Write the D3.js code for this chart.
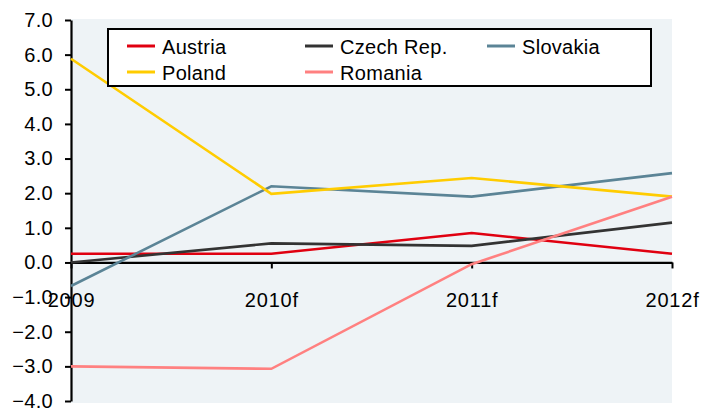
<!DOCTYPE html>
<html><head><meta charset="utf-8">
<script src="https://cdn.jsdelivr.net/npm/d3@7"></script>
<style>body{margin:0;background:#fff;}svg{display:block;font-family:"Liberation Sans",Arial,sans-serif;}</style>
</head><body><svg id="c" width="706" height="412"></svg>
<script>
const categories = ["2009","2010f","2011f","2012f"];
const austria  = [0.25, 0.25, 0.85, 0.25];
const czech    = [0.0, 0.55, 0.48, 1.15];
const slovakia = [-0.68, 2.2, 1.9, 2.58];
const poland   = [5.88, 1.98, 2.44, 1.9];
const romania  = [-3.0, -3.07, -0.05, 1.9];
const yTicks = [7,6,5,4,3,2,1,0,-1,-2,-3,-4];

const series = [
  {name:"Austria", values:austria, color:"#e00010"},
  {name:"Czech Rep.", values:czech, color:"#333333"},
  {name:"Slovakia", values:slovakia, color:"#5b8496"},
  {name:"Poland", values:poland, color:"#ffcc00"},
  {name:"Romania", values:romania, color:"#ff8080"}
];

const svg = d3.select("#c");
const x = d3.scalePoint().domain(categories).range([71, 672]);
const y = d3.scaleLinear().domain([-4,7]).range([401, 20]);

svg.append("rect").attr("x",71).attr("y",19).attr("width",601).attr("height",384).attr("fill","#eef3f6");

// y axis
const ya = svg.append("g").attr("transform","translate(71,0)")
  .call(d3.axisLeft(y).tickValues(yTicks).tickFormat(d3.format(".1f")).tickSize(6).tickSizeOuter(0));
ya.select(".domain").attr("stroke","#000").attr("stroke-width",2.2);
ya.selectAll(".tick line").attr("stroke","#000").attr("stroke-width",2);
ya.selectAll("text").attr("font-size",20).attr("fill","#000").attr("x",-18).attr("letter-spacing","0.3px");

// x axis at zero
const xa = svg.append("g").attr("transform",`translate(0,${y(0)})`)
  .call(d3.axisBottom(x).tickSize(6).tickSizeOuter(0).tickPadding(24));
xa.select(".domain").attr("stroke","#000").attr("stroke-width",2.2);
xa.selectAll(".tick line").attr("stroke","#000").attr("stroke-width",2);
xa.selectAll("text").attr("font-size",20).attr("fill","#000").attr("letter-spacing","0.8px");

const line = d3.line().x((d,i)=>x(categories[i])).y(d=>y(d));
svg.append("g").selectAll("path").data(series).join("path")
  .attr("d",d=>line(d.values)).attr("fill","none").attr("stroke",d=>d.color).attr("stroke-width",2.6);

// legend
const lg = svg.append("g");
lg.append("rect").attr("x",108).attr("y",29).attr("width",543).attr("height",57)
  .attr("fill","#fff").attr("stroke","#000").attr("stroke-width",2);
const pos = [[127,46],[305,46],[487,46],[127,72],[305,72]];
series.forEach((s,i)=>{
  const [lx,ly]=pos[i];
  lg.append("line").attr("x1",lx).attr("x2",lx+28).attr("y1",ly).attr("y2",ly).attr("stroke",s.color).attr("stroke-width",3);
  lg.append("text").attr("x",lx+35).attr("y",ly+8).attr("font-size",20).attr("letter-spacing","0.3px").text(s.name);
});
</script></body></html>
